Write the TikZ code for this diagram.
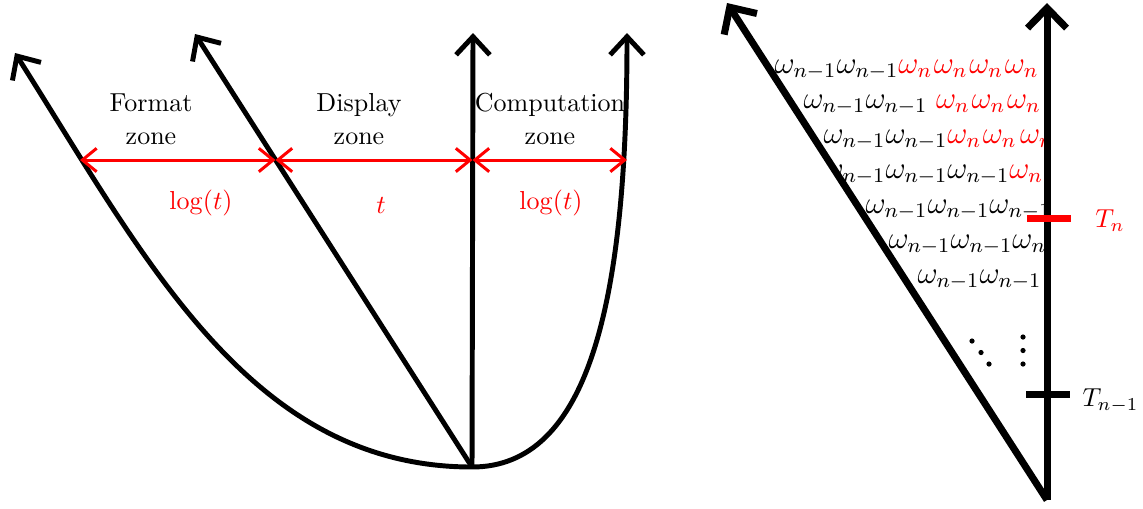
\documentclass[tikz,border=0pt]{standalone}
\usetikzlibrary{arrows.meta}
\begin{document}
\begin{tikzpicture}[x=0.3846pt,y=-0.3846pt,
  thinaxis/.style={line width=1.9pt,-{Straight Barb[length=7pt,width=13pt,line join=miter]}},
  thickaxis/.style={line width=2.7pt,-{Straight Barb[length=7.7pt,width=15pt,line join=miter]}},
  zonearrow/.style={red,line width=1.15pt,{Straight Barb[length=5.5pt,width=9pt,line join=miter]}-{Straight Barb[length=5.5pt,width=9pt,line join=miter]}},
  zonelabel/.style={align=center,inner sep=0pt,font=\fontsize{10}{12.7}\selectfont},
  redlabel/.style={red,inner sep=0pt},
  omg/.style={anchor=base west,inner sep=0pt,font=\large},
  tick/.style={line width=2.7pt},
  dotmark/.style={fill=black}
]
\useasboundingbox (0,0) rectangle (1143,508);
% ---------- left figure ----------
\coordinate (O) at (472,467);
\coordinate (Vtop) at (473,33);
\coordinate (Dtop) at (195,34);
\coordinate (Ltop) at (15,53);
\coordinate (Rtop) at (627,33);
\draw[thinaxis] (O) .. controls (250,467) and (145,258) .. (Ltop);
\draw[thinaxis] (O) -- (Dtop);
\draw[thinaxis] (O) -- (Vtop);
\draw[thinaxis] (O) .. controls (588,467) and (627,305) .. (Rtop);
\coordinate (a1) at (80,160);
\coordinate (a2) at (275.5,160);
\coordinate (a3) at (472.5,160);
\coordinate (a4) at (627,160);
\draw[zonearrow] (a1) -- (a2);
\draw[zonearrow] (a2) -- (a3);
\draw[zonearrow] (a3) -- (a4);
\node[zonelabel] (fz) at (151,119) {Format\\zone};
\node[zonelabel] (dz) at (359,119) {Display\\zone};
\node[zonelabel] (cz) at (550,119) {Computation\\zone};
\node[redlabel] (l1) at (201,203) {$\log(t)$};
\node[redlabel] (l2) at (381,205) {$t$};
\node[redlabel] (l3) at (551,203) {$\log(t)$};
% ---------- right figure ----------
\coordinate (B) at (1047,500);
\coordinate (RVtop) at (1047,3);
\coordinate (RDtop) at (727,3);
\begin{scope}
\clip (B) -- (RDtop) -- (RVtop) -- cycle;
\node[omg] (w1) at (774,73) {$\omega_{n-1}\omega_{n-1}\textcolor{red}{\omega_n\mkern1mu\omega_n\mkern1mu\omega_n\mkern1mu\omega_n}$};
\node[omg] (w2) at (803,108) {$\omega_{n-1}\omega_{n-1}\;\textcolor{red}{\omega_n\mkern1mu\omega_n\mkern1mu\omega_n}$};
\node[omg] (w3) at (823,143) {$\omega_{n-1}\omega_{n-1}\textcolor{red}{\omega_n\mkern1mu\omega_n\mkern2mu\omega_n}$};
\node[omg] (w4) at (823,178) {$\omega_{n-1}\omega_{n-1}\omega_{n-1}\textcolor{red}{\omega_n}$};
\node[omg] (w5) at (865,213) {$\omega_{n-1}\omega_{n-1}\omega_{n-1}$};
\node[omg] (w6) at (888,248) {$\omega_{n-1}\omega_{n-1}\omega_{n-1}$};
\node[omg] (w7) at (917,283) {$\omega_{n-1}\omega_{n-1}$};
\end{scope}
\draw[thickaxis] (B) -- (RDtop);
\draw[thickaxis] (B) -- (RVtop);
\coordinate (tn1) at (1027,218);
\coordinate (tn2) at (1071,218);
\draw[tick,red] (tn1) -- (tn2);
\coordinate (tm1) at (1026,394);
\coordinate (tm2) at (1070,394);
\draw[tick] (tm1) -- (tm2);
\node[red,inner sep=0pt] (Tn) at (1110,221) {$T_n$};
\node[anchor=west,inner sep=0pt] (Tm) at (1082,401) {$T_{n-1}$};
\fill[dotmark] (972,341) circle (1pt);
\fill[dotmark] (981,352.5) circle (1pt);
\fill[dotmark] (989,364) circle (1pt);
\fill[dotmark] (1023,337) circle (1pt);
\fill[dotmark] (1023,350.5) circle (1pt);
\fill[dotmark] (1023,364) circle (1pt);
\end{tikzpicture}
\end{document}
